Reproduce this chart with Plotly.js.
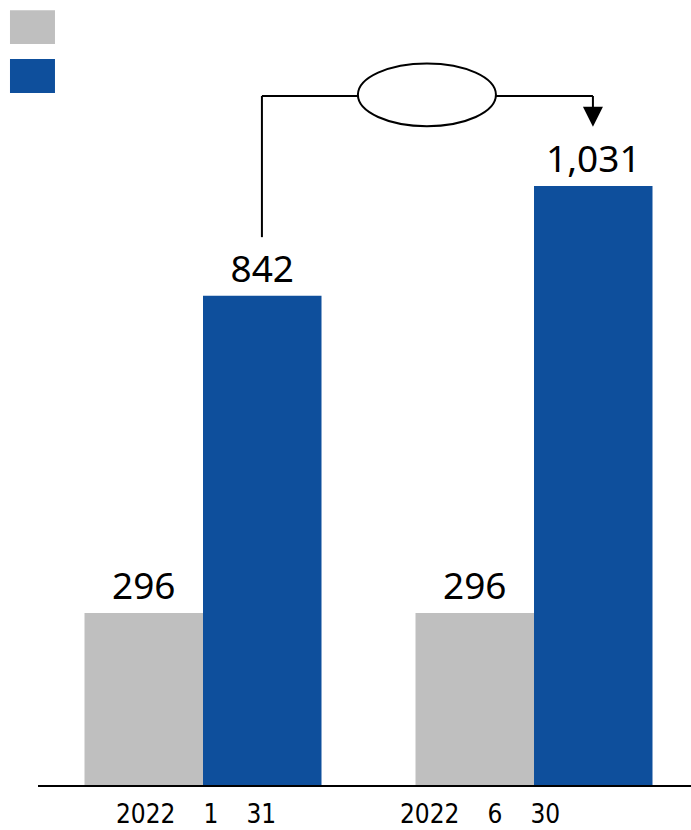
<!DOCTYPE html>
<html>
<head>
<meta charset="utf-8">
<script src="https://cdn.plot.ly/plotly-3.0.1.min.js"></script>
<style>html,body{margin:0;padding:0;background:#fff;}#chart{width:691px;height:830px;}</style>
</head>
<body>
<div id="chart"></div>
<script>
// Data
const categories = ["2022\u2003\u20091\u2003\u200931", "2022\u2003\u20096\u2003\u200930"];
const seriesGray = [296, 296];
const seriesBlue = [842, 1031];
const seriesNames = ["", ""];

const xIdx = categories.map((c, i) => i);
const fmt = v => v.toLocaleString("en-US");

const traces = [
  {
    type: "bar", x: xIdx, y: seriesGray, name: seriesNames[0],
    marker: {color: "#BFBFBF"},
    text: seriesGray.map(fmt), textposition: "outside",
    textfont: {family: "Noto Sans, Open Sans, sans-serif", size: 37, color: "#000"},
    cliponaxis: false, hoverinfo: "skip"
  },
  {
    type: "bar", x: xIdx, y: seriesBlue, name: seriesNames[1],
    marker: {color: "#0E4F9C"},
    text: seriesBlue.map(fmt), textposition: "outside",
    textfont: {family: "Noto Sans, Open Sans, sans-serif", size: 37, color: "#000"},
    cliponaxis: false, hoverinfo: "skip"
  }
];

const lineStyle = {color: "#000", width: 2};
const layout = {
  width: 691, height: 830,
  margin: {l: 38, r: 0, t: 0, b: 45},
  paper_bgcolor: "#fff", plot_bgcolor: "#fff",
  showlegend: false,
  barmode: "group", bargap: 0.284, bargroupgap: 0,
  xaxis: {
    range: [-0.4985, 1.4743], showgrid: false, zeroline: false,
    showline: true, linecolor: "#000", linewidth: 2,
    tickvals: [-0.021, 0.837], ticktext: categories,
    ticks: "", ticklabelstandoff: 5,
    tickfont: {family: "DejaVu Sans Condensed, Noto Sans, sans-serif", size: 26, color: "#000"},
    fixedrange: true
  },
  yaxis: {range: [0, 1351.2], visible: false, fixedrange: true},
  shapes: [
    // legend swatches
    {type: "rect", xref: "paper", yref: "paper", x0: -0.0429, x1: 0.026, y0: 0.944, y1: 0.987, fillcolor: "#BFBFBF", line: {width: 0}},
    {type: "rect", xref: "paper", yref: "paper", x0: -0.0429, x1: 0.026, y0: 0.8815, y1: 0.925, fillcolor: "#0E4F9C", line: {width: 0}},
    // connector
    {type: "line", xref: "x", yref: "y", x0: 0.178, x1: 0.178, y0: 943, y1: 1186, line: lineStyle},
    {type: "line", xref: "x", yref: "y", x0: 0.178, x1: 0.468, y0: 1186, y1: 1186, line: lineStyle},
    {type: "circle", xref: "x", yref: "y", x0: 0.468, x1: 0.885, y0: 1134, y1: 1242, line: lineStyle, fillcolor: "rgba(0,0,0,0)"},
    {type: "line", xref: "x", yref: "y", x0: 0.885, x1: 1.178, y0: 1186, y1: 1186, line: lineStyle},
    {type: "line", xref: "x", yref: "y", x0: 1.178, x1: 1.178, y0: 1186, y1: 1150, line: lineStyle}
  ],
  annotations: [
    {x: 1.178, y: 1133, ax: 1.178, ay: 1165, xref: "x", yref: "y", axref: "x", ayref: "y",
     text: "", showarrow: true, arrowhead: 2, arrowsize: 2, arrowwidth: 2, arrowcolor: "#000"}
  ]
};

Plotly.newPlot("chart", traces, layout, {staticPlot: true, displayModeBar: false});
</script>
</body>
</html>
